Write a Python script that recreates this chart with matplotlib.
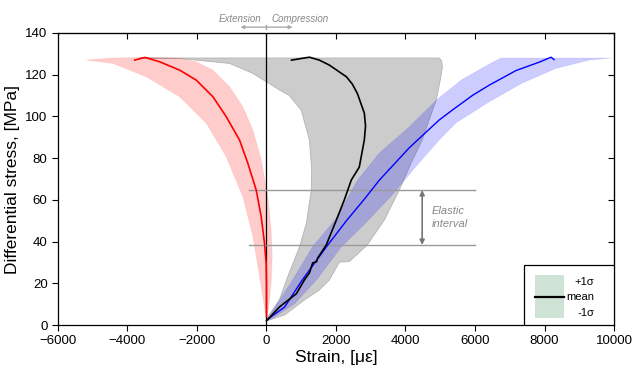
import matplotlib
matplotlib.use('Agg')
import matplotlib.pyplot as plt
from matplotlib.patches import Rectangle

plt.rcParams['font.family'] = ['Liberation Sans', 'DejaVu Sans']

# extension side (negative strain): band edges listed bottom -> top
red_lo_x = [0, -77, -200, -390, -680, -1160, -1730, -2500, -3460, -4420, -5180]
red_lo_y = [3, 10.4, 23.2, 42.3, 61.5, 80.7, 96.7, 109.4, 119, 125.4, 127]
red_hi_x = [0, 65, 135, 165, 135, 40, -150, -390, -680, -1060, -1540, -2020, -2500,
            -3500, -4500]
red_hi_y = [3, 8.8, 20, 32.7, 45.5, 61.5, 79.1, 93.5, 104.6, 114.2, 122.2, 126.2, 127.8,
            128.3, 128]
red_mean_x = [0, 0, -10, -57, -152, -296, -536, -776, -1160, -1540, -2020, -2500, -3075,
              -3500, -3790]
red_mean_y = [4, 20, 29.6, 39.2, 51.9, 64.7, 77.5, 88.7, 99.9, 109.4, 117.4, 122.2, 126.2,
              128.3, 127]

# compression side
blue_lo_x = [0, 300, 750, 1320, 2000, 2620, 3250, 4110, 4900, 5600, 6080, 6400, 6750]
blue_lo_y = [2, 10, 21.6, 37.4, 51, 69.5, 82.5, 95, 108, 117.4, 122, 125, 128]
blue_hi_x = [30, 230, 800, 1440, 2150, 2800, 3600, 4300, 4970, 5460, 6410, 7360, 8330,
             9280, 9910]
blue_hi_y = [2, 3.8, 10, 21.6, 37.4, 48, 62, 76, 88.7, 97, 107, 116, 123, 127, 128]
blue_mean_x = [50, 520, 1030, 1720, 2300, 2800, 3250, 4110, 4970, 5345, 5920, 6410, 7180,
               7845, 8190, 8275]
blue_mean_y = [3, 8.6, 21.6, 37.4, 50, 60, 69.5, 85, 98.3, 103, 110, 115, 122, 126,
               128.4, 127.2]

# volumetric
gray_lo_x = [0, 370, 575, 950, 1150, 1290, 1300, 1235, 1000, 660, 370, 0, -400, -1060,
             -2500, -3650]
gray_lo_y = [3, 12, 21.6, 37.4, 48.9, 64.7, 75, 88.7, 103, 110, 112.7, 116.6, 120.7, 125.4,
             127.8, 128]
gray_hi_x = [0, 520, 1090, 1520, 1810, 2100, 2385, 2900, 3390, 3820, 4200, 4480, 4680,
             4885, 5000, 5060, 5040, 4970]
gray_hi_y = [2, 4.8, 12, 16.8, 21.6, 30.2, 30.4, 38.4, 50.3, 64.7, 79.1, 88.7, 98.3, 107.9,
             117.4, 123.7, 126.5, 128]
black_mean_x = [0, 370, 860, 1090, 1235, 1330, 1440, 1470, 1720, 2010, 2240, 2440, 2670,
                2815, 2850, 2815, 2615, 2470, 2300, 1810, 1520, 1235, 720]
black_mean_y = [2, 8.6, 15, 21.6, 25, 29.8, 30.3, 32, 38.4, 50.3, 60, 69.5, 75.7, 88.7,
                95.5, 101.6, 111, 115.5, 119, 124.6, 127, 128.4, 127]

elastic = [38.4, 64.7]


def band(ax, lo_x, lo_y, hi_x, hi_y, **kw):
    xs = list(lo_x) + list(hi_x)[::-1]
    ys = list(lo_y) + list(hi_y)[::-1]
    ax.fill(xs, ys, **kw)


fig = plt.figure(figsize=(6.33, 3.69), dpi=100)
ax = fig.add_axes([0.0916, 0.1192, 0.8784, 0.7914])

band(ax, gray_lo_x, gray_lo_y, gray_hi_x, gray_hi_y, facecolor='#cccccc',
     edgecolor='#b3b3b3', linewidth=0.6, zorder=1)
band(ax, red_lo_x, red_lo_y, red_hi_x, red_hi_y, facecolor=(1, 0, 0, 0.2),
     edgecolor=(1, 0, 0, 0.08), linewidth=0.6, zorder=2)
band(ax, blue_lo_x, blue_lo_y, blue_hi_x, blue_hi_y, facecolor=(0, 0, 1, 0.2),
     edgecolor=(0, 0, 1, 0.08), linewidth=0.6, zorder=2)

ax.plot(red_mean_x, red_mean_y, color='red', lw=1.2, zorder=4)
ax.plot(blue_mean_x, blue_mean_y, color='blue', lw=1.0, zorder=4)
ax.plot(black_mean_x, black_mean_y, color='black', lw=1.2, zorder=4)

ax.axvline(0, color='black', lw=0.9, zorder=3)

# elastic interval
for s in elastic:
    ax.plot([-500, 6000], [s, s], color='#999999', lw=1.0, zorder=3)
ax.annotate('', xy=(4480, elastic[0]), xytext=(4480, elastic[1]),
            arrowprops=dict(arrowstyle='<|-|>', color='#777777', lw=1.2,
                            mutation_scale=7, shrinkA=0, shrinkB=0))
ax.text(4750, 51.5, 'Elastic\ninterval', color='#888888', style='italic', fontsize=8,
        ha='left', va='center', linespacing=1.3)

# extension / compression header
ax.annotate('', xy=(-750, 142.8), xytext=(750, 142.8), annotation_clip=False,
            arrowprops=dict(arrowstyle='<|-|>', color='#aaaaaa', lw=1.0,
                            mutation_scale=5, shrinkA=0, shrinkB=0))
ax.plot([0, 0], [141.8, 143.8], color='#999999', lw=0.9, clip_on=False)
ax.text(-150, 146.5, 'Extension', color='#888888', style='italic', fontsize=7,
        ha='right', va='center')
ax.text(130, 146.5, 'Compression', color='#888888', style='italic', fontsize=7,
        ha='left', va='center')

# legend key
ax.add_patch(Rectangle((0.838, 0.0), 0.162, 0.205, transform=ax.transAxes,
                       facecolor='white', edgecolor='black', lw=0.9, zorder=6))
ax.add_patch(Rectangle((0.858, 0.024), 0.052, 0.147, transform=ax.transAxes,
                       facecolor='#cfe2d6', edgecolor='none', zorder=7))
ax.plot([0.858, 0.910], [0.0975, 0.0975], transform=ax.transAxes, color='black',
        lw=1.6, zorder=8)
ax.text(0.964, 0.146, '+1σ', transform=ax.transAxes, ha='right', va='center',
        fontsize=8, zorder=8)
ax.text(0.964, 0.0975, 'mean', transform=ax.transAxes, ha='right', va='center',
        fontsize=8, zorder=8)
ax.text(0.964, 0.042, '-1σ', transform=ax.transAxes, ha='right', va='center',
        fontsize=8, zorder=8)

xticks = list(range(-6000, 10001, 2000))
yticks = list(range(0, 141, 20))
ax.set_xlim(-6000, 10000)
ax.set_ylim(0, 140)
ax.set_xticks(xticks)
ax.set_yticks(yticks)
ax.tick_params(axis='both', labelsize=9.5, direction='out', length=4, width=0.8)

# inward ticks on the top and right edges
top = ax.secondary_xaxis('top')
top.set_xticks(xticks)
top.set_xticklabels([])
top.tick_params(direction='in', length=4, width=0.8)
right = ax.secondary_yaxis('right')
right.set_yticks(yticks)
right.set_yticklabels([])
right.tick_params(direction='in', length=4, width=0.8)

for spine in ax.spines.values():
    spine.set_linewidth(0.9)
ax.set_xlabel('Strain, [με]', fontsize=12.5, labelpad=2)
ax.set_ylabel('Differential stress, [MPa]', fontsize=12.5, labelpad=4)

fig.savefig('out.png', dpi=100)
